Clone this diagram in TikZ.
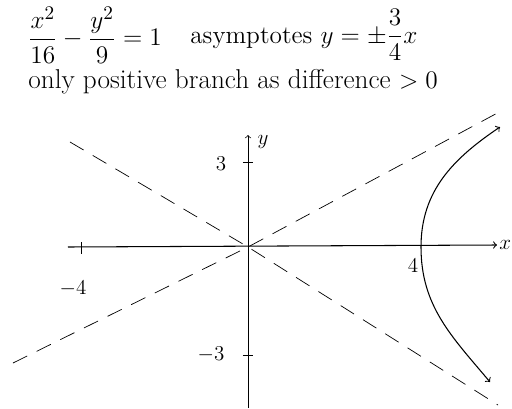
\documentclass[tikz,border=0pt]{standalone}
\usepackage{amsmath, amssymb}
\usepackage{tikz}
\usetikzlibrary{arrows}

\begin{document}
\begin{tikzpicture}[
    asym/.style={dash pattern=on 9pt off 6pt, thin},
    tickmark/.style={thin},
    txt/.style={font=\fontsize{15.5}{18}\selectfont, anchor=west, inner sep=0pt},
    lbl/.style={font=\large}
  ]
    \useasboundingbox (-4.96,-3.22) rectangle (5.28,4.94);

    % Equation and notes
    \node[txt] (eq) at (-4.4,4.24) {$\displaystyle\frac{x^2}{16}-\frac{y^2}{9}=1$};
    \node[txt, font=\Large] (asy) at (-1.16,4.24) {asymptotes $\displaystyle y=\pm\frac{3}{4}x$};
    \node[txt] (note) at (-4.4,3.3) {only positive branch as difference $>0$};

    % Axes
    \coordinate (O) at (0,0);
    \coordinate (xl) at (-3.6,0);
    \coordinate (xr) at (4.98,0.04);
    \coordinate (yb) at (0,-3.22);
    \coordinate (yt) at (0,2.24);
    \draw[->, semithick] (xl) -- (xr) node[right, inner sep=1pt, lbl] (xlab) {$x$};
    \draw[->] (yb) -- (yt) node[right, xshift=2pt, yshift=-4pt, lbl] (ylab) {$y$};

    % Ticks
    \draw[tickmark] (-3.34,0.1) -- (-3.34,-0.14) coordinate (tm4);
    \node[lbl] (lm4) at (-3.5,-0.84) {$-4$};
    \node[lbl] (l4) at (3.3,-0.38) {$4$};
    \draw[tickmark] (-0.1,1.7) -- (0.1,1.7) coordinate (t3);
    \node[lbl] (l3) at (-0.54,1.66) {$3$};
    \draw[tickmark] (-0.1,-2.16) -- (0.1,-2.16) coordinate (tm3);
    \node[lbl] (lm3) at (-0.74,-2.16) {$-3$};

    % Asymptotes
    \coordinate (a1s) at (-3.56,2.1);
    \coordinate (a1e) at (5.0,-3.16);
    \coordinate (a2s) at (-4.7,-2.32);
    \coordinate (a2e) at (5.1,2.74);
    \draw[asym] (a1s) -- (O) -- (a1e);
    \draw[asym] (a2s) -- (O) -- (a2e);

    % Positive branch
    \coordinate (bt) at (5.04,2.4);
    \coordinate (bv) at (3.46,0);
    \coordinate (bb) at (4.84,-2.7);
    \draw[<->, semithick] (bt) to[out=-146,in=90] (bv) to[out=-90,in=130] (bb);
\end{tikzpicture}
\end{document}
